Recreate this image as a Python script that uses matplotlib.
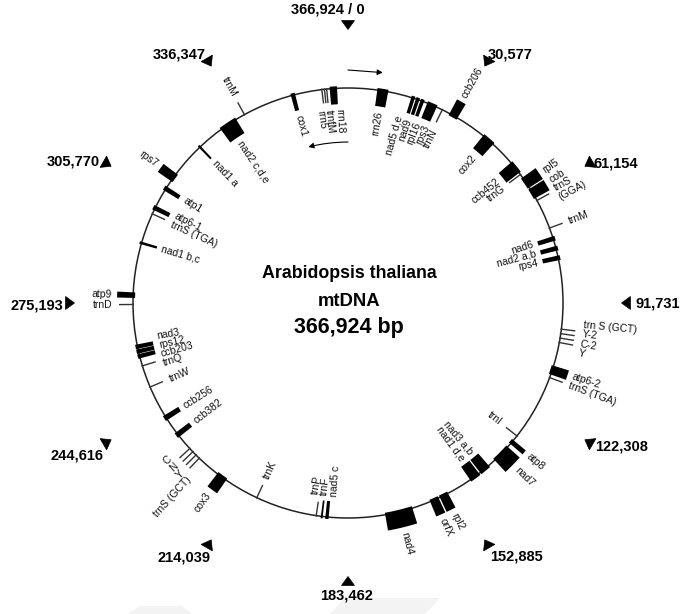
import numpy as np
import matplotlib
matplotlib.use("Agg")
import matplotlib.pyplot as plt
from matplotlib.patches import Polygon, Circle

plt.rcParams['font.family'] = ['Liberation Sans', 'DejaVu Sans']

# genome data
GENOME_SIZE = 366924

tick_pos = [0, 30577, 61154, 91731, 122308, 152885,
            183462, 214039, 244616, 275193, 305770, 336347]
tick_labels = ['366,924 / 0', '30,577', '61,154', '91,731', '122,308', '152,885',
               '183,462', '214,039', '244,616', '275,193', '305,770', '336,347']

# outer ring = '+' strand, inner ring = '-' strand
gene_names = ['ccb206', 'rpl5', 'cob', 'trnS\n(GGA)', 'trnM',
              'trn S (GCT)', 'Y-2', 'C-2', 'Y',
              'atp6-2', 'trnS (TGA)', 'atp8', 'nad7', 'rpl2', 'orfX', 'nad4',
              'cox3', 'trnS (GCT)', 'Y', 'N', 'C',
              'trnD', 'atp9', 'rps7', 'trnM',
              'rrn26', 'nad5 d,e', 'nad9', 'rpl16', 'rps3', 'trnN',
              'cox2', 'ccb452', 'trnG', 'nad6', 'nad2 a,b', 'rps4',
              'trnI', 'nad3 a,b', 'nad1 d,e', 'nad5 c', 'trnF', 'trnP',
              'trnK', 'ccb382', 'ccb256', 'trnW', 'trnQ',
              'ccb203', 'rps12', 'nad3', 'nad1 b,c', 'trnS (TGA)', 'atp6-1',
              'atp1', 'nad1 a', 'nad2 c,d,e', 'cox1',
              'rrn5', '', 'trnfM', 'rrn18']
gene_pos = [29965, 56975, 60440, 62680, 70940,
            98865, 100090, 101310, 102530,
            110280, 112420, 132810, 137090, 156450, 159310, 169500,
            220150, 228100, 229330, 230550, 231770,
            274790, 277330, 311680, 337570,
            9480, 17940, 19260, 20590, 23440, 26500,
            41480, 51980, 54330, 74000, 76750, 79400,
            130670, 143300, 146670, 189170, 190600, 192130,
            209050, 236770, 242370, 251750, 257870,
            260610, 261940, 263260, 291700, 300160, 301900,
            307910, 322580, 332480, 351830,
            359790, 360500, 361110, 362950]
gene_len = [2500, 3300, 3000, 0, 0,
            0, 0, 0, 0,
            2500, 0, 1300, 5100, 2500, 2500, 7600,
            3000, 0, 0, 0, 0,
            0, 1500, 2500, 0,
            3000, 1000, 1000, 1000, 2800, 0,
            3600, 3600, 0, 1300, 1300, 1300,
            0, 3000, 3000, 900, 500, 0,
            0, 1500, 1500, 0, 0,
            1200, 1200, 1200, 700, 0, 1300,
            1300, 600, 5000, 1200,
            0, 0, 0, 2000]
gene_strand = ['+'] * 25 + ['-'] * 37

CX, CY, R = 348, 303, 215


def bp_to_deg(bp):
    return np.asarray(bp, dtype=float) / GENOME_SIZE * 360.0


def to_xy(theta, r):
    t = np.radians(theta)
    return CX + r * np.sin(t), CY - r * np.cos(t)


def readable(theta):
    rot = (90 - theta) % 360
    if rot > 180:
        rot -= 360
    outward = True
    if rot > 90:
        rot -= 180
        outward = False
    elif rot <= -90:
        rot += 180
        outward = False
    return rot, outward


def spread(angles, heights, radius, iters=400):
    order = np.argsort(angles)
    a = np.asarray(angles, dtype=float)[order]
    h = np.asarray(heights, dtype=float)[order]
    for _ in range(iters):
        moved = False
        for i in range(len(a) - 1):
            need = np.degrees((h[i] + h[i + 1]) / 2 / radius)
            d = a[i + 1] - a[i]
            if d < need - 1e-6:
                s = (need - d) / 2
                a[i] -= s
                a[i + 1] += s
                moved = True
        if not moved:
            break
    out = np.empty_like(a)
    out[order] = a
    return out


fig = plt.figure(figsize=(6.81, 6.14), dpi=100)
ax = fig.add_axes([0, 0, 1, 1])
ax.set_xlim(0, 681)
ax.set_ylim(614, 0)
ax.axis('off')

# faint band at the bottom of the page
ax.add_patch(Polygon([[128, 614], [140, 606], [182, 606], [192, 614]], fc='#f3f3f3', ec='none'))
ax.add_patch(Polygon([[330, 614], [345, 598], [440, 598], [425, 614]], fc='#f3f3f3', ec='none'))

ax.add_patch(Circle((CX, CY), R, fill=False, lw=1.1, ec='#222'))

# genes
for name, pos, length, strand in zip(gene_names, gene_pos, gene_len, gene_strand):
    th = bp_to_deg(pos)
    if length == 0:
        r0, r1 = (R - 1, R + 14) if strand == '+' else (R + 1, R - 14)
        x, y = to_xy(np.array([th, th]), np.array([r0, r1]))
        ax.plot(x, y, color='#333', lw=1.0, solid_capstyle='butt')
    else:
        half = bp_to_deg(length) / 2
        r0, r1 = (R - 2, R + 16) if strand == '+' else (R + 2, R - 16)
        ts = np.linspace(th - half, th + half, 12)
        ox, oy = to_xy(ts, r1)
        ix, iy = to_xy(ts[::-1], r0)
        pts = np.column_stack([np.concatenate([ox, ix]), np.concatenate([oy, iy])])
        ax.add_patch(Polygon(pts, closed=True, fc='black', ec='none'))

# gene labels, spread so they do not overlap
LINE_PX = 9.5
for side in ['+', '-']:
    idx = [i for i, s in enumerate(gene_strand) if s == side and gene_names[i]]
    ang = []
    for i in idx:
        t = float(bp_to_deg(gene_pos[i]))
        ang.append(t if t <= 300 else t - 360)
    hts = [LINE_PX * (gene_names[i].count('\n') + 1) for i in idx]
    rlab = R + 21 if side == '+' else R - 21
    new_ang = spread(ang, hts, rlab)
    for i, t in zip(idx, new_ang):
        rot, outward = readable(t)
        if side == '+':
            ha = 'left' if outward else 'right'
        else:
            ha = 'right' if outward else 'left'
        x, y = to_xy(t, rlab)
        ax.text(x, y, gene_names[i], rotation=rot, rotation_mode='anchor',
                ha=ha, va='center', fontsize=7.5, multialignment=ha,
                linespacing=1.0, color='#111')

# coordinate markers: triangles pointing to the centre
TICK_R = 278
tick_offsets = [(17, -16, 'right'), (1, -8, 'left'), (5, -1, 'left'), (9, 0, 'left'),
                (6, 5, 'left'), (3, 13, 'left'), (-1, 14, 'center'), (2, 14, 'right'),
                (-4, 13, 'right'), (-7, 2, 'right'), (-7, -3, 'right'), (-3, -8, 'right')]
for tp, lbl, (dx, dy, ha) in zip(tick_pos, tick_labels, tick_offsets):
    th = float(bp_to_deg(tp))
    x, y = to_xy(th, TICK_R)
    tip = to_xy(th, TICK_R - 4.5)
    bx, by = to_xy(th, TICK_R + 4.5)
    px, py = np.cos(np.radians(th)), np.sin(np.radians(th))
    tri = [tip, (bx + 6.5 * px, by + 6.5 * py), (bx - 6.5 * px, by - 6.5 * py)]
    ax.add_patch(Polygon(tri, closed=True, fc='black', ec='black', lw=0.5))
    ax.text(x + dx, y + dy, lbl, ha=ha, va='center', fontsize=10.5, fontweight='bold')

# strand direction arrows
ax.annotate('', xy=to_xy(8.6, 233), xytext=to_xy(0, 233),
            arrowprops=dict(arrowstyle='-|>', lw=0.8, color='black', mutation_scale=8,
                            shrinkA=0, shrinkB=0))
ax.annotate('', xy=to_xy(-14.3, 161), xytext=to_xy(0, 161),
            arrowprops=dict(arrowstyle='-|>', lw=0.8, color='black', mutation_scale=8,
                            shrinkA=0, shrinkB=0, connectionstyle='arc3,rad=0.06'))

# title in the middle
ax.text(CX + 1, 273, 'Arabidopsis thaliana', ha='center', va='center', fontsize=12.8, fontweight='bold')
ax.text(CX + 1, 302, 'mtDNA', ha='center', va='center', fontsize=13.3, fontweight='bold')
ax.text(CX + 1, 327, '366,924 bp', ha='center', va='center', fontsize=15.5, fontweight='bold')

fig.savefig('out.png', dpi=100)
